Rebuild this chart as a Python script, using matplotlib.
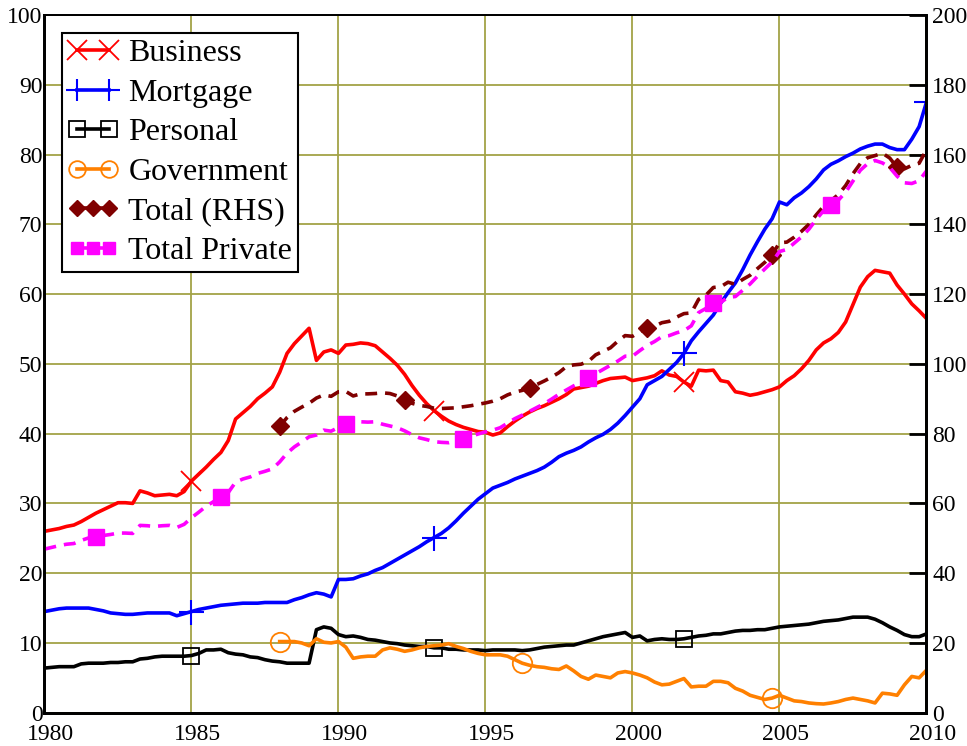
import numpy as np
import matplotlib
matplotlib.use("Agg")
import matplotlib.pyplot as plt
import matplotlib.transforms as mtransforms
from matplotlib.lines import Line2D
from matplotlib.legend_handler import HandlerLine2D

plt.rcParams['font.family'] = 'Liberation Serif'

# quarterly observations, 1980Q1 .. 2010Q1
quarters = 1980 + np.arange(121) / 4

business = [
    26.0, 26.2, 26.4, 26.7,  26.9, 27.4, 28.0, 28.6,  29.1, 29.6, 30.1, 30.1,
    30.0, 31.8, 31.5, 31.1,  31.2, 31.3, 31.1, 31.7,  33.2, 34.2, 35.2, 36.3,
    37.3, 39.0, 42.1, 43.0,  43.9, 45.0, 45.8, 46.7,  48.8, 51.5, 52.9, 54.0,
    55.1, 50.5, 51.7, 52.0,  51.5, 52.7, 52.8, 53.0,  52.9, 52.6, 51.7, 50.8,
    49.8, 48.5, 46.9, 45.5,  44.3, 43.3, 42.5, 41.8,  41.3, 40.9, 40.6, 40.3,
    40.2, 39.8, 40.1, 41.0,  41.8, 42.5, 43.1, 43.6,  44.0, 44.5, 45.0, 45.6,
    46.4, 46.6, 46.8, 47.2,  47.6, 47.9, 48.0, 48.1,  47.6, 47.8, 48.0, 48.3,
    49.0, 48.4, 48.2, 47.4,  46.8, 49.1, 49.0, 49.1,  47.6, 47.4, 46.0, 45.8,
    45.5, 45.7, 46.0, 46.3,  46.7, 47.6, 48.3, 49.3,  50.5, 52.0, 53.0, 53.6,
    54.5, 56.0, 58.5, 61.0,  62.5, 63.4, 63.2, 63.0,  61.3, 60.0, 58.6, 57.6,
    56.5,
]

mortgage = [
    14.5, 14.7, 14.9, 15.0,  15.0, 15.0, 15.0, 14.8,  14.6, 14.3, 14.2, 14.1,
    14.1, 14.2, 14.3, 14.3,  14.3, 14.3, 13.9, 14.2,  14.5, 14.8, 15.0, 15.2,
    15.4, 15.5, 15.6, 15.7,  15.7, 15.7, 15.8, 15.8,  15.8, 15.8, 16.2, 16.5,
    16.9, 17.2, 17.0, 16.6,  19.1, 19.1, 19.2, 19.6,  19.9, 20.4, 20.8, 21.4,
    22.0, 22.6, 23.2, 23.8,  24.5, 25.1, 25.7, 26.5,  27.5, 28.6, 29.6, 30.6,
    31.4, 32.2, 32.6, 33.0,  33.5, 33.9, 34.3, 34.7,  35.2, 35.9, 36.7, 37.2,
    37.6, 38.1, 38.8, 39.4,  39.9, 40.6, 41.5, 42.6,  43.8, 45.0, 47.0, 47.6,
    48.2, 49.2, 50.2, 51.5,  53.3, 54.6, 55.8, 57.0,  58.7, 60.2, 61.6, 63.5,
    65.6, 67.5, 69.3, 70.8,  73.2, 72.8, 73.8, 74.5,  75.4, 76.5, 77.8, 78.6,
    79.1, 79.7, 80.2, 80.8,  81.2, 81.5, 81.5, 81.0,  80.7, 80.7, 82.2, 84.0,
    87.5,
]

personal = [
    6.4, 6.5, 6.6, 6.6,  6.6, 7.0, 7.1, 7.1,  7.1, 7.2, 7.2, 7.3,
    7.3, 7.7, 7.8, 8.0,  8.1, 8.1, 8.1, 8.1,  8.2, 8.5, 9.0, 9.0,
    9.1, 8.6, 8.4, 8.3,  8.0, 7.9, 7.6, 7.4,  7.3, 7.1, 7.1, 7.1,
    7.1, 11.9, 12.3, 12.1,  11.2, 10.9, 11.0, 10.8,  10.5, 10.4, 10.2, 10.0,
    9.9, 9.7, 9.6, 9.5,  9.5, 9.3, 9.3, 9.1,  9.1, 9.0, 9.0, 9.0,
    8.9, 9.0, 9.0, 9.0,  9.0, 8.9, 9.0, 9.2,  9.4, 9.5, 9.6, 9.7,
    9.7, 10.0, 10.3, 10.6,  10.9, 11.1, 11.3, 11.5,  10.8, 11.0, 10.3, 10.5,
    10.6, 10.5, 10.5, 10.6,  10.8, 11.0, 11.1, 11.3,  11.3, 11.5, 11.7, 11.8,
    11.8, 11.9, 11.9, 12.1,  12.3, 12.4, 12.5, 12.6,  12.7, 12.9, 13.1, 13.2,
    13.3, 13.5, 13.7, 13.7,  13.7, 13.4, 12.9, 12.3,  11.8, 11.2, 10.9, 10.9,
    11.3,
]

# government series starts in 1988
government = [np.nan] * 32 + [
    10.2, 10.2, 10.2, 10.0,  9.6, 10.6, 10.1, 10.0,  10.2, 9.4, 7.8, 8.0,
    8.1, 8.1, 9.0, 9.3,  9.1, 8.8, 9.0, 9.3,  9.5, 9.6, 9.7, 9.9,
    9.5, 9.2, 8.8, 8.5,  8.3, 8.3, 8.3, 8.1,  7.6, 7.1, 6.8, 6.6,
    6.5, 6.3, 6.2, 6.7,  6.0, 5.2, 4.8, 5.4,  5.2, 5.0, 5.7, 5.9,
    5.7, 5.4, 5.0, 4.4,  4.0, 4.1, 4.5, 4.9,  3.7, 3.8, 3.8, 4.5,
    4.5, 4.3, 3.5, 3.1,  2.5, 2.2, 1.9, 2.1,  2.5, 2.1, 1.7, 1.6,
    1.4, 1.3, 1.25, 1.4,  1.6, 1.9, 2.1, 1.9,  1.7, 1.4, 2.8, 2.7,
    2.5, 4.0, 5.2, 5.0,  6.1,
]

# totals (right hand scale)
total_private = np.array(business) + np.array(mortgage) + np.array(personal)
total = total_private + np.array(government)

labels = ['Business', 'Mortgage', 'Personal', 'Government', 'Total (RHS)', 'Total Private']
colors = ['#ff0000', '#0000ff', '#000000', '#ff8000', '#800000', '#ff00ff']

fig = plt.figure(figsize=(9.67, 7.46), dpi=100)
ax = fig.add_axes([0.046, 0.0446, 0.9121, 0.9353])
ax2 = ax.twinx()

lw = 2.6
dash = (0, (3.3, 2.2))
ax.plot(quarters, business, color=colors[0], lw=lw, marker='x', ms=15, mew=1.3,
        markevery=[20, 53, 87])
ax.plot(quarters, mortgage, color=colors[1], lw=lw, marker='+', ms=18, mew=1.5,
        markevery=[20, 53, 87, 120])
ax.plot(quarters, personal, color=colors[2], lw=lw, marker='s', ms=12, mew=1.3,
        mfc='none', markevery=[20, 53, 87])
ax.plot(quarters, government, color=colors[3], lw=lw, marker='o', ms=14, mew=1.3,
        mfc='none', markevery=[32, 65, 99])
ax2.plot(quarters, total, color=colors[4], lw=lw, ls=dash, marker='D', ms=9,
         markevery=[32, 49, 66, 82, 99, 116])
ax2.plot(quarters, total_private, color=colors[5], lw=lw, ls=dash, marker='s', ms=12,
         markevery=[7, 24, 41, 57, 74, 91, 107])

ax.set_xlim(1980, 2010)
ax.set_ylim(0, 100)
ax2.set_ylim(0, 200)
ax.set_xticks(range(1980, 2011, 5))
ax.set_yticks(range(0, 101, 10))
ax2.set_yticks(range(0, 201, 20))
ax.set_axisbelow(True)
ax.grid(True, color='#a3a347', lw=1.3)

ax.tick_params(axis='x', length=0, labelsize=17, pad=8)
ax.tick_params(axis='y', length=0, labelsize=17, pad=1.5)
ax2.tick_params(axis='y', direction='in', length=12, width=2, labelsize=17, pad=4)

shift = mtransforms.ScaledTranslation(6 / 100, 0, fig.dpi_scale_trans)
for lab in ax.get_xticklabels():
    lab.set_transform(lab.get_transform() + shift)

for a in (ax, ax2):
    for s in a.spines.values():
        s.set_linewidth(2)
        s.set_color('black')
    a.spines['top'].set_linewidth(1.3)

handles = [
    Line2D([], [], color=colors[0], lw=lw, marker='x', ms=14, mew=1.3),
    Line2D([], [], color=colors[1], lw=lw, marker='+', ms=16, mew=1.5),
    Line2D([], [], color=colors[2], lw=lw, marker='s', ms=11, mew=1.3, mfc='none'),
    Line2D([], [], color=colors[3], lw=lw, marker='o', ms=12, mew=1.3, mfc='none'),
    Line2D([], [], color=colors[4], lw=lw, marker='D', ms=8),
    Line2D([], [], color=colors[5], lw=lw, marker='s', ms=9),
]
leg = ax2.legend(handles, labels, loc='upper left', bbox_to_anchor=(0.0198, 0.974),
                 borderaxespad=0, numpoints=2,
                 handler_map={handles[4]: HandlerLine2D(numpoints=3),
                              handles[5]: HandlerLine2D(numpoints=3)},
                 fontsize=23, fancybox=False, framealpha=1, edgecolor='black',
                 handlelength=1.6, handletextpad=0.3, labelspacing=0.32,
                 borderpad=0.18)
leg.get_frame().set_linewidth(1.5)

fig.savefig('out.png', dpi=100)
